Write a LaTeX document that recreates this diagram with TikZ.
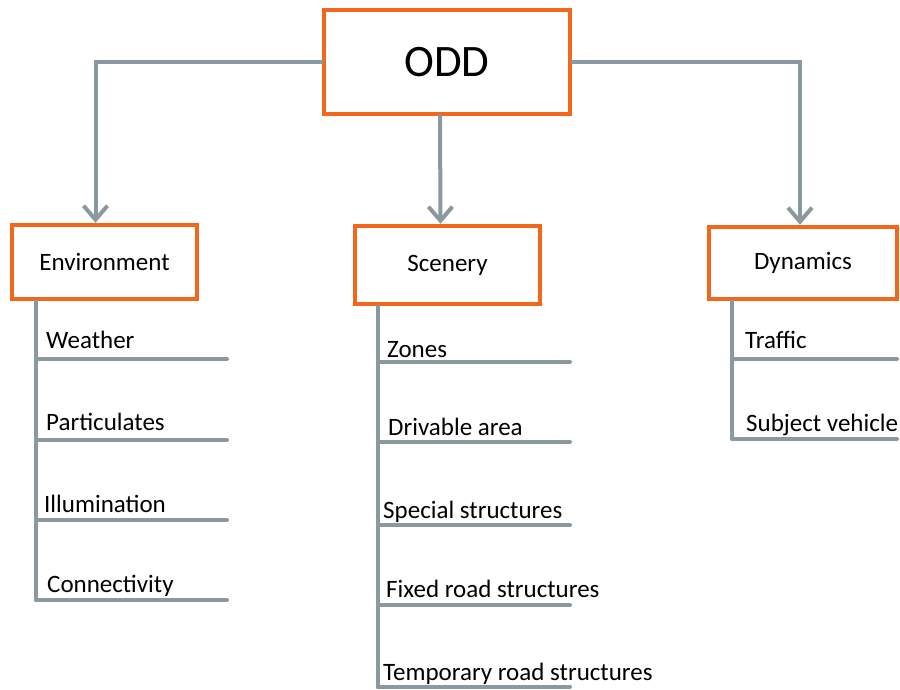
\documentclass[tikz,border=0pt]{standalone}
\usepackage{fontspec}
\setmainfont{Carlito}
\usetikzlibrary{arrows.meta}
\definecolor{oddorange}{RGB}{243,103,28}
\definecolor{oddgray}{RGB}{138,153,160}
\tikzset{
    > = {Straight Barb[length = 14pt, width = 24pt]},
    box/.style = {draw = oddorange, line width = 4.5pt, fill = white, inner sep = 0pt,
                  font = \fontsize{25}{28}\selectfont},
    link/.style = {draw = oddgray, line width = 4pt, line cap = round},
    item/.style = {anchor = base west, inner sep = 0pt, font = \fontsize{25}{28}\selectfont}
}

\begin{document}
\begin{tikzpicture}[x = 1pt, y = -1pt]
    \useasboundingbox (0, 0) rectangle (900, 689);

    \node[box, minimum width = 246, minimum height = 104, font = \fontsize{45}{50}\selectfont] (odd) at (447, 62) {ODD\hspace{8pt}};
    \node[box, minimum width = 185, minimum height = 74] (env) at (104.5, 262) {Environment};
    \node[box, minimum width = 185, minimum height = 78] (scn) at (447.5, 265) {Scenery};
    \node[box, minimum width = 188, minimum height = 72] (dyn) at (803, 263) {Dynamics};

    \draw[link, ->] (odd.west) -| ([xshift = -9pt]env.north);
    \draw[link, ->] ([xshift = -7pt]odd.south) -- ([xshift = -7pt]scn.north);
    \draw[link, ->] (odd.east) -| ([xshift = -3pt]dyn.north);

    \coordinate (envbot) at (36, 600);
    \coordinate (weatherend) at (227, 359);
    \coordinate (partend) at (227, 440);
    \coordinate (illumend) at (227, 520);
    \coordinate (connend) at (227, 600);
    \node[item] (weather) at (46, 348) {Weather};
    \node[item] (part) at (46, 430) {Particulates};
    \node[item] (illum) at (44, 512) {Illumination};
    \node[item] (conn) at (47, 592) {Connectivity};
    \draw[link] (env.south -| envbot) -- (envbot);
    \draw[link] (envbot |- weatherend) -- (weatherend);
    \draw[link] (envbot |- partend) -- (partend);
    \draw[link] (envbot |- illumend) -- (illumend);
    \draw[link] (envbot |- connend) -- (connend);

    \coordinate (scnbot) at (378, 687);
    \coordinate (zonesend) at (570, 362);
    \coordinate (drivend) at (570, 442);
    \coordinate (specend) at (570, 525);
    \coordinate (fixedend) at (570, 605);
    \coordinate (tempend) at (570, 687);
    \node[item] (zones) at (387, 357) {Zones};
    \node[item] (driv) at (388, 435) {Drivable area};
    \node[item] (spec) at (383, 518) {Special structures};
    \node[item] (fixed) at (386, 597) {Fixed road structures};
    \node[item] (temp) at (383, 680) {Temporary road structures};
    \draw[link] (scn.south -| scnbot) -- (scnbot);
    \draw[link] (scnbot |- zonesend) -- (zonesend);
    \draw[link] (scnbot |- drivend) -- (drivend);
    \draw[link] (scnbot |- specend) -- (specend);
    \draw[link] (scnbot |- fixedend) -- (fixedend);
    \draw[link] (scnbot |- tempend) -- (tempend);

    \coordinate (dynbot) at (732, 439);
    \coordinate (trafficend) at (897, 359);
    \coordinate (subjend) at (897, 439);
    \node[item] (traffic) at (745, 348) {Traffic};
    \node[item] (subj) at (746, 431) {Subject vehicle};
    \draw[link] (dyn.south -| dynbot) -- (dynbot);
    \draw[link] (dynbot |- trafficend) -- (trafficend);
    \draw[link] (dynbot |- subjend) -- (subjend);
\end{tikzpicture}
\end{document}
